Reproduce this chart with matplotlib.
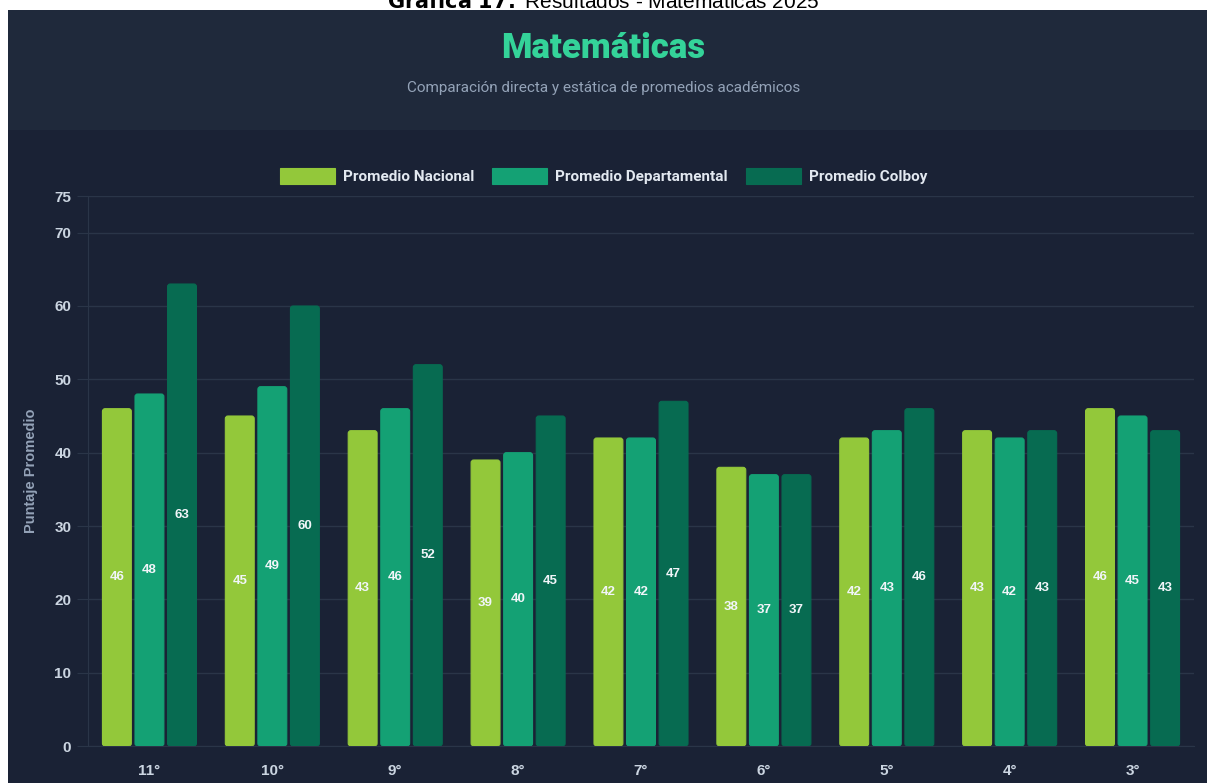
import matplotlib.pyplot as plt
import numpy as np
from matplotlib.patches import Rectangle, FancyBboxPatch

# datos
grados = ["11°", "10°", "9°", "8°", "7°", "6°", "5°", "4°", "3°"]
nacional = [46, 45, 43, 39, 42, 38, 42, 43, 46]
departamental = [48, 49, 46, 40, 42, 37, 43, 42, 45]
colboy = [63, 60, 52, 45, 47, 37, 46, 43, 43]
series = ["Promedio Nacional", "Promedio Departamental", "Promedio Colboy"]
colores = ["#93c83a", "#14a174", "#076b51"]
yticks = [0, 10, 20, 30, 40, 50, 60, 70, 75]

W, H = 1207, 783
fig = plt.figure(figsize=(W / 100, H / 100), dpi=100, facecolor="white")

def fx(px):
    return px / W

def fy(py):
    return 1 - py / H

# paneles de fondo
fig.patches.append(Rectangle((fx(8), fy(783)), fx(1207 - 8), (783 - 130) / H,
                             transform=fig.transFigure, facecolor="#1a2235",
                             edgecolor="none", zorder=-2))
fig.patches.append(Rectangle((fx(8), fy(130)), fx(1207 - 8), (130 - 10) / H,
                             transform=fig.transFigure, facecolor="#1f293b",
                             edgecolor="none", zorder=-2))

# titulo externo (cortado arriba como en la imagen)
fig.text(0.5, fy(1), r"$\bf{Gráfica\ 17.}$ Resultados - Matemáticas 2025",
         ha="center", va="center", fontsize=15, color="black",
         family="Liberation Sans")

fig.text(0.5, fy(48), "Matemáticas", ha="center", va="center", fontsize=25,
         fontweight="heavy", color="#34d399", family="Roboto")
fig.text(0.5, fy(88), "Comparación directa y estática de promedios académicos",
         ha="center", va="center", fontsize=11, color="#94a3b8", family="Roboto")

ax = fig.add_axes([fx(88), fy(746), fx(1194 - 88), (746 - 196) / H])
ax.set_facecolor("none")
ax.set_xlim(-0.5, len(grados) - 0.5)
ax.set_ylim(0, 75)

# relacion de aspecto para esquinas redondeadas
asp = (75 / 550) / (len(grados) / 1106)

x = np.arange(len(grados))
ancho = 0.235
paso = 0.265
for i, (nombre, vals, col) in enumerate(zip(series, [nacional, departamental, colboy], colores)):
    pos = x + (i - 1) * paso
    bars = ax.bar(pos, vals, width=ancho, color=col, label=nombre,
                  edgecolor=col, linewidth=0.8, zorder=3)
    for b, v in zip(bars, vals):
        b.set_visible(False)
        ax.add_patch(FancyBboxPatch((b.get_x(), 0), b.get_width(), v,
                                    boxstyle="round,pad=0,rounding_size=0.022",
                                    mutation_aspect=asp, facecolor=col,
                                    edgecolor=col, linewidth=0.8, zorder=3))
        ax.text(b.get_x() + b.get_width() / 2, v / 2, str(v), ha="center",
                va="center", fontsize=9.5, fontweight="bold", color="#f1f5f9",
                family="Liberation Sans", zorder=4)

ax.set_yticks(yticks)
ax.set_xticks(x)
ax.set_xticklabels(grados)
ax.grid(axis="y", color="#2a3548", linewidth=1, zorder=0)
ax.grid(axis="x", visible=False)
for s in ["top", "right"]:
    ax.spines[s].set_visible(False)
for s in ["left", "bottom"]:
    ax.spines[s].set_color("#2a3548")
ax.tick_params(axis="y", length=8, color="#2a3548", labelcolor="#cbd5e1",
               labelsize=11, pad=4)
ax.tick_params(axis="x", length=0, labelcolor="#cbd5e1", labelsize=11, pad=13)
for t in ax.get_yticklabels() + ax.get_xticklabels():
    t.set_fontweight("bold")
    t.set_family("Liberation Sans")

ax.set_ylabel("Puntaje Promedio", color="#94a3b8", fontsize=10.5,
              fontweight="bold", family="Liberation Sans", labelpad=12)

leg = fig.legend(loc="center", bbox_to_anchor=(0.5, fy(176)), ncol=3, frameon=False,
                 handlelength=3.6, handleheight=1.3, columnspacing=1.2,
                 handletextpad=0.5, prop={"family": "Roboto", "weight": "bold", "size": 11})
for t in leg.get_texts():
    t.set_color("#e2e8f0")
for h in leg.legend_handles:
    h.set_visible(True)

fig.savefig("out.png", dpi=100, facecolor="white")
